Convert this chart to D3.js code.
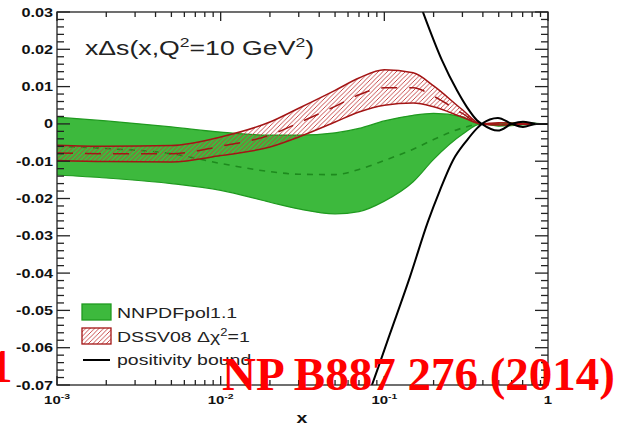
<!DOCTYPE html>
<html>
<head>
<meta charset="utf-8">
<script src="https://cdn.jsdelivr.net/npm/d3@7"></script>
<style>
  html, body { margin: 0; padding: 0; background: #fff; }
  svg { display: block; }
</style>
</head>
<body>
<svg id="chart" width="629" height="431"></svg>
<script>
// ---------------- data ----------------
const xGrid        = [0.001, 0.002, 0.005, 0.01, 0.02, 0.03, 0.05, 0.07, 0.1, 0.15, 0.2, 0.3, 0.39, 0.5, 0.7, 1.0];
const nnpdfUpper   = [0.0018, 0.0008, -0.0008, -0.0022, -0.0030, -0.0030, -0.0024, -0.0012, 0.0008, 0.0023, 0.0028, 0.0019, 0.0, 0.0002, 0.0003, 0.0];
const nnpdfLower   = [-0.0137, -0.0145, -0.0160, -0.0178, -0.0210, -0.0228, -0.0241, -0.0235, -0.0207, -0.0155, -0.0095, -0.0028, 0.0, -0.0006, -0.0003, 0.0];
const nnpdfCentral = [-0.0060, -0.0066, -0.0080, -0.0106, -0.0128, -0.0135, -0.0136, -0.0122, -0.0098, -0.0068, -0.0042, -0.0011, 0.0, -0.0002, 0.0, 0.0];
const dssvUpper    = [-0.0057, -0.0060, -0.0058, -0.0035, 0.0005, 0.0042, 0.0090, 0.0123, 0.0145, 0.0137, 0.0102, 0.0038, 0.0, 0.0003, 0.0001, 0.0];
const dssvLower    = [-0.0098, -0.0101, -0.0102, -0.0085, -0.0062, -0.0035, 0.0005, 0.0032, 0.0050, 0.0056, 0.0046, 0.0018, 0.0, -0.0003, -0.0001, 0.0];
const dssvCentral  = [-0.0078, -0.0080, -0.0080, -0.0060, -0.0030, 0.0003, 0.0047, 0.0078, 0.0097, 0.0097, 0.0074, 0.0028, 0.0, 0.0, 0.0, 0.0];

const boundUpperX = [0.1336, 0.1721, 0.2248, 0.2777, 0.3196, 0.3679, 0.394, 0.494, 0.602, 0.703, 0.855, 1.0];
const boundUpperY = [0.0435, 0.0300, 0.0171, 0.0090, 0.0045, 0.0010, 0.0, -0.0018, 0.0, 0.0006, 0.0, 0.0];
const boundLowerX = [0.0761, 0.084, 0.1082, 0.1434, 0.1847, 0.2186, 0.2624, 0.3196, 0.3679, 0.394, 0.494, 0.602, 0.703, 0.855, 1.0];
const boundLowerY = [-0.075, -0.070, -0.0563, -0.0410, -0.0262, -0.0178, -0.0098, -0.0044, -0.0012, 0.0, 0.0016, 0.0, -0.0008, 0.0, 0.0];

const yTicks = [0.03, 0.02, 0.01, 0, -0.01, -0.02, -0.03, -0.04, -0.05, -0.06, -0.07];
const yTickLabels = ["0.03", "0.02", "0.01", "0", "-0.01", "-0.02", "-0.03", "-0.04", "-0.05", "-0.06", "-0.07"];
const xMajor = [0.001, 0.01, 0.1, 1];
const xMajorBase = ["10", "10", "10", "1"];
const xMajorExp = ["-3", "-2", "-1", ""];
const legendLabels = ["NNPDFpol1.1", "DSSV08 ", "positivity bound"];
const titleText = "xΔs(x,Q";
const stampText = "NP B887 276 (2014)";

// ---------------- layout ----------------
const L = 57, R = 548, T = 12, B = 385;
const SX = 1.3; // the picture is stretched horizontally
const svg = d3.select("#chart");
const x = d3.scaleLog().domain([0.001, 1]).range([L, R]);
const y = d3.scaleLinear().domain([-0.07, 0.03]).range([B, T]);

const GREEN = "#3db93d", GREEN_EDGE = "#1f9a1f", GREEN_DASH = "#1e8a1e";
const RED = "#c23a3a", RED_EDGE = "#a31515";

const defs = svg.append("defs");
defs.append("clipPath").attr("id", "plotclip")
  .append("rect").attr("x", L).attr("y", T).attr("width", R - L).attr("height", B - T);
const pat = defs.append("pattern").attr("id", "hatch")
  .attr("patternUnits", "userSpaceOnUse").attr("width", 4.5).attr("height", 4.5);
pat.append("path").attr("d", "M0,4.5 L4.5,0 M-1,1 L1,-1 M3.5,5.5 L5.5,3.5")
  .attr("stroke", RED).attr("stroke-width", 0.9).attr("fill", "none");

const plot = svg.append("g").attr("clip-path", "url(#plotclip)");
const curve = d3.curveMonotoneX;

const bandData = (up, lo) => xGrid.map((xv, i) => ({ x: xv, u: up[i], l: lo[i] }));
const area = d3.area().x(d => x(d.x)).y0(d => y(d.l)).y1(d => y(d.u)).curve(curve);
const line = d3.line().x(d => x(d[0])).y(d => y(d[1])).curve(curve);
const zip = (xs, ys) => xs.map((v, i) => [v, ys[i]]);

// NNPDF band
plot.append("path").datum(bandData(nnpdfUpper, nnpdfLower))
  .attr("d", area).attr("fill", GREEN).attr("stroke", "none");
plot.append("path").datum(zip(xGrid, nnpdfUpper)).attr("d", line)
  .attr("fill", "none").attr("stroke", GREEN_EDGE).attr("stroke-width", 1.2);
plot.append("path").datum(zip(xGrid, nnpdfLower)).attr("d", line)
  .attr("fill", "none").attr("stroke", GREEN_EDGE).attr("stroke-width", 1.2);
plot.append("path").datum(zip(xGrid, nnpdfCentral)).attr("d", line)
  .attr("fill", "none").attr("stroke", GREEN_DASH).attr("stroke-width", 1.6)
  .attr("stroke-dasharray", "6,6");

// DSSV band
plot.append("path").datum(bandData(dssvUpper, dssvLower))
  .attr("d", area).attr("fill", "url(#hatch)").attr("stroke", "none");
plot.append("path").datum(zip(xGrid, dssvUpper)).attr("d", line)
  .attr("fill", "none").attr("stroke", RED_EDGE).attr("stroke-width", 1.5);
plot.append("path").datum(zip(xGrid, dssvLower)).attr("d", line)
  .attr("fill", "none").attr("stroke", RED_EDGE).attr("stroke-width", 1.5);
plot.append("path").datum(zip(xGrid, dssvCentral)).attr("d", line)
  .attr("fill", "none").attr("stroke", RED_EDGE).attr("stroke-width", 1.5)
  .attr("stroke-dasharray", "16,12");

// positivity bound
plot.append("path").datum(zip(boundUpperX, boundUpperY)).attr("d", line)
  .attr("fill", "none").attr("stroke", "#000").attr("stroke-width", 2);
plot.append("path").datum(zip(boundLowerX, boundLowerY)).attr("d", line)
  .attr("fill", "none").attr("stroke", "#000").attr("stroke-width", 2);

// ---------------- axes ----------------
const ax = svg.append("g").attr("stroke", "#222").attr("stroke-width", 1.3);
ax.append("rect").attr("x", L).attr("y", T).attr("width", R - L).attr("height", B - T).attr("fill", "none");

// y ticks (major every 0.01, minor every 0.002) on left and right
const yMinor = d3.range(0, 51).map(i => -0.07 + i * 0.002);
yMinor.forEach(v => {
  const isMajor = Math.abs(Math.round(v * 100) - v * 100) < 1e-6;
  const len = isMajor ? 13 : 7;
  const yy = y(v);
  ax.append("line").attr("x1", L).attr("x2", L + len).attr("y1", yy).attr("y2", yy);
  ax.append("line").attr("x1", R).attr("x2", R - len).attr("y1", yy).attr("y2", yy);
});
// x ticks log
const xTicksAll = [];
[0.001, 0.01, 0.1].forEach(dec => { for (let k = 1; k <= 9; k++) xTicksAll.push(dec * k); });
xTicksAll.push(1);
xTicksAll.forEach(v => {
  const isMajor = xMajor.some(m => Math.abs(m - v) < 1e-9);
  const len = isMajor ? 9 : 5;
  const xx = x(v);
  ax.append("line").attr("x1", xx).attr("x2", xx).attr("y1", B).attr("y2", B - len);
  ax.append("line").attr("x1", xx).attr("x2", xx).attr("y1", T).attr("y2", T + len);
});

function stretched(px, py, anchor) {
  return svg.append("g").attr("transform", `translate(${px},${py}) scale(${SX},1)`)
    .append("text").attr("text-anchor", anchor || "start");
}

// y tick labels
yTicks.forEach((v, i) => {
  stretched(53, y(v) + 4.5, "end")
    .attr("font-family", "Liberation Sans, Arial, sans-serif").attr("font-weight", "bold")
    .attr("font-size", 12.5).attr("fill", "#111").text(yTickLabels[i]);
});
// x tick labels
xMajor.forEach((v, i) => {
  const t = stretched(x(v), 404, "middle")
    .attr("font-family", "Liberation Sans, Arial, sans-serif").attr("font-weight", "bold")
    .attr("font-size", 11.5).attr("fill", "#111");
  t.append("tspan").text(xMajorBase[i]);
  if (xMajorExp[i]) t.append("tspan").attr("font-size", 8).attr("dy", -5).text(xMajorExp[i]);
});
// x axis title
stretched(302, 423, "middle")
  .attr("font-family", "Liberation Sans, Arial, sans-serif").attr("font-weight", "bold")
  .attr("font-size", 15).attr("fill", "#111").text("x");

// plot title
{
  const t = stretched(85, 55, "start")
    .attr("font-family", "Liberation Sans, Arial, sans-serif")
    .attr("font-size", 20.5).attr("fill", "#222");
  t.append("tspan").text(titleText);
  t.append("tspan").attr("font-size", 13.5).attr("dy", -8).text("2");
  t.append("tspan").attr("dy", 8).text("=10 GeV");
  t.append("tspan").attr("font-size", 13.5).attr("dy", -8).text("2");
  t.append("tspan").attr("dy", 8).text(")");
}

// ---------------- legend ----------------
const lg = svg.append("g");
lg.append("rect").attr("x", 82).attr("y", 304).attr("width", 29).attr("height", 16)
  .attr("fill", GREEN).attr("stroke", GREEN_EDGE).attr("stroke-width", 1.3);
lg.append("rect").attr("x", 82).attr("y", 328).attr("width", 29).attr("height", 16)
  .attr("fill", "#fff").attr("stroke", "none");
lg.append("rect").attr("x", 82).attr("y", 328).attr("width", 29).attr("height", 16)
  .attr("fill", "url(#hatch)").attr("stroke", RED_EDGE).attr("stroke-width", 1.3);
lg.append("line").attr("x1", 83).attr("x2", 110).attr("y1", 360).attr("y2", 360)
  .attr("stroke", "#000").attr("stroke-width", 2);
const legY = [318, 342, 365];
legendLabels.forEach((s, i) => {
  const t = stretched(117, legY[i], "start")
    .attr("font-family", "Liberation Sans, Arial, sans-serif")
    .attr("font-size", 15).attr("fill", "#222");
  t.append("tspan").text(s);
  if (i === 1) {
    t.append("tspan").text("Δχ");
    t.append("tspan").attr("font-size", 10).attr("dy", -6).text("2");
    t.append("tspan").attr("dy", 6).text("=1");
  }
});

// ---------------- red stamp ----------------
svg.append("text").attr("x", 222).attr("y", 390)
  .attr("font-family", "Liberation Serif, Times New Roman, serif").attr("font-weight", "bold")
  .attr("font-size", 47).attr("fill", "#ff0000").text(stampText);
svg.append("text").attr("x", -11).attr("y", 382)
  .attr("font-family", "Liberation Serif, Times New Roman, serif").attr("font-weight", "bold")
  .attr("font-size", 47).attr("fill", "#ff0000").text("1");
</script>
</body>
</html>
